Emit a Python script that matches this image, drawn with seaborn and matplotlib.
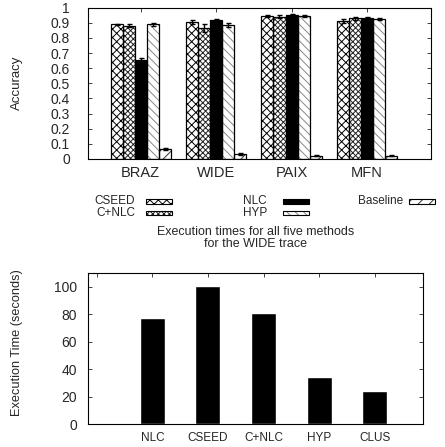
import matplotlib
matplotlib.use("Agg")
import matplotlib.pyplot as plt
from matplotlib.patches import Rectangle
import numpy as np
import pandas as pd
import seaborn as sns

# ---------------- data ----------------
traces = ["BRAZ", "WIDE", "PAIX", "MFN"]
methods = ["CSEED", "C+NLC", "NLC", "HYP", "Baseline"]
acc_cseed = [0.89, 0.905, 0.945, 0.912]
acc_cnlc = [0.88, 0.866, 0.94, 0.93]
acc_nlc = [0.657, 0.92, 0.955, 0.934]
acc_hyp = [0.89, 0.886, 0.946, 0.925]
acc_base = [0.066, 0.034, 0.021, 0.021]
err_cseed = [0.005, 0.015, 0.004, 0.015]
err_cnlc = [0.010, 0.025, 0.010, 0.008]
err_nlc = [0.008, 0.005, 0.005, 0.005]
err_hyp = [0.010, 0.015, 0.005, 0.008]
err_base = [0.005, 0.005, 0.003, 0.003]

exec_methods = ["NLC", "CSEED", "C+NLC", "HYP", "CLUS"]
exec_times = [77.5, 100.5, 80.5, 34.0, 24.0]

ytick_vals = [0, 0.1, 0.2, 0.3, 0.4, 0.5, 0.6, 0.7, 0.8, 0.9, 1]
ytick_labels = ["0", "0.1", "0.2", "0.3", "0.4", "0.5", "0.6", "0.7", "0.8", "0.9", "1"]
ytick2_vals = [0, 20, 40, 60, 80, 100]

# ---------------- styles ----------------
face = {"CSEED": "white", "C+NLC": "white", "NLC": "black", "HYP": "white", "Baseline": "white"}
hatch = {"CSEED": "xxxx", "C+NLC": "xxxxxx", "NLC": "", "HYP": "\\\\\\\\", "Baseline": "///"}
hatch_col = {"CSEED": "black", "C+NLC": "#222222", "NLC": "black", "HYP": "#888888", "Baseline": "#333333"}

sns.set_theme(style="white")
plt.rcParams["font.family"] = ["Liberation Sans", "DejaVu Sans"]
plt.rcParams["hatch.linewidth"] = 0.7
plt.rcParams["axes.linewidth"] = 0.8

rows = []
for vals, errs, m in zip([acc_cseed, acc_cnlc, acc_nlc, acc_hyp, acc_base],
                         [err_cseed, err_cnlc, err_nlc, err_hyp, err_base], methods):
    for t, v, e in zip(traces, vals, errs):
        rows.append({"trace": t, "method": m, "acc": v, "err": e})
df = pd.DataFrame(rows)

W, H = 445.0, 447.0
fig = plt.figure(figsize=(4.45, 4.47), dpi=100)
ax1 = fig.add_axes([88 / W, 1 - 159 / H, (431 - 88) / W, (159 - 7.7) / H])
ax2 = fig.add_axes([88 / W, 1 - 424 / H, (423 - 88) / W, (424 - 273) / H])

sns.barplot(data=df, x="trace", y="acc", hue="method", order=traces, hue_order=methods,
            palette=face, saturation=1, width=0.8, errorbar=None, legend=False,
            edgecolor="black", linewidth=0.8, ax=ax1)

for cont, m in zip(ax1.containers, methods):
    sub = df[df.method == m].set_index("trace")
    xs, hs, es = [], [], []
    for bar in cont:
        bar.set_hatch(hatch[m])
        bar.set_edgecolor(hatch_col[m])
        bar.set_linewidth(0.0)
        outline = Rectangle((bar.get_x(), bar.get_y()), bar.get_width(), bar.get_height(),
                            fill=False, edgecolor="black", linewidth=0.9, zorder=bar.get_zorder() + 0.1)
        ax1.add_patch(outline)
        xc = bar.get_x() + bar.get_width() / 2
        t = traces[int(round(xc))]
        xs.append(xc)
        hs.append(bar.get_height())
        es.append(sub.loc[t, "err"])
    ax1.errorbar(xs, hs, yerr=es, fmt="none", ecolor="black", elinewidth=1.0,
                 capsize=1.8, capthick=1.0, zorder=5)

ax1.set_xlim(-0.70, 3.85)
ax1.set_ylim(0, 1)
ax1.set_yticks(ytick_vals)
ax1.set_yticklabels(ytick_labels)
ax1.set_xlabel("")
ax1.set_ylabel("")
ax1.tick_params(axis="y", direction="in", length=3, width=0.6, right=True, left=True,
                labelleft=True, labelright=False, labelsize=10, pad=13)
ax1.tick_params(axis="x", direction="in", length=3, width=0.6, top=True, bottom=True,
                labelbottom=True, labeltop=False, labelsize=10.5, pad=5)
for s in ax1.spines.values():
    s.set_color("black")
fig.text(17 / W, 1 - 83 / H, "Accuracy", rotation=90, ha="center", va="center", fontsize=9.5)

# ---------------- manual gnuplot-style key ----------------
key_layout = [("CSEED", 135, 146, 201.5), ("C+NLC", 135, 146, 213),
              ("NLC", 267, 283, 201.5), ("HYP", 267, 283, 213),
              ("Baseline", 403, 409, 201.5)]
for m, tx, sx, yc in key_layout:
    fig.text(tx / W, 1 - yc / H, m, ha="right", va="center", fontsize=8.5)
    r = Rectangle((sx / W, 1 - (yc + 2.5) / H), 26 / W, 5 / H, transform=fig.transFigure,
                  facecolor=face[m], hatch=hatch[m], edgecolor=hatch_col[m], linewidth=0)
    fig.add_artist(r)
    fig.add_artist(Rectangle((sx / W, 1 - (yc + 2.5) / H), 26 / W, 5 / H,
                             transform=fig.transFigure, fill=False, edgecolor="black", linewidth=0.8))

# ---------------- execution time chart ----------------
df2 = pd.DataFrame({"method": exec_methods, "time": exec_times})
sns.barplot(data=df2, x="method", y="time", order=exec_methods, color="black", saturation=1,
            width=0.45, errorbar=None, ax=ax2)
ax2.set_xlim(-1.16, 4.87)
ax2.set_ylim(0, 110)
ax2.set_yticks(ytick2_vals)
ax2.set_xticks(range(-1, len(exec_methods)))
ax2.set_xticklabels([""] + exec_methods)
ax2.set_xlabel("")
ax2.set_ylabel("")
ax2.set_title("Execution times for all five methods\nfor the WIDE trace", fontsize=9,
              pad=19, linespacing=0.95)
ax2.tick_params(axis="y", direction="in", length=3, width=0.6, right=True, left=True,
                labelleft=True, labelright=False, labelsize=10, pad=8)
ax2.tick_params(axis="x", direction="in", length=3, width=0.6, top=True, bottom=False,
                labelbottom=True, labeltop=False, labelsize=8.5, pad=6)
for s in ax2.spines.values():
    s.set_color("black")
fig.text(17 / W, 1 - 343 / H, "Execution Time (seconds)", rotation=90, ha="center",
         va="center", fontsize=9.2)

fig.savefig("out.png", dpi=100)
